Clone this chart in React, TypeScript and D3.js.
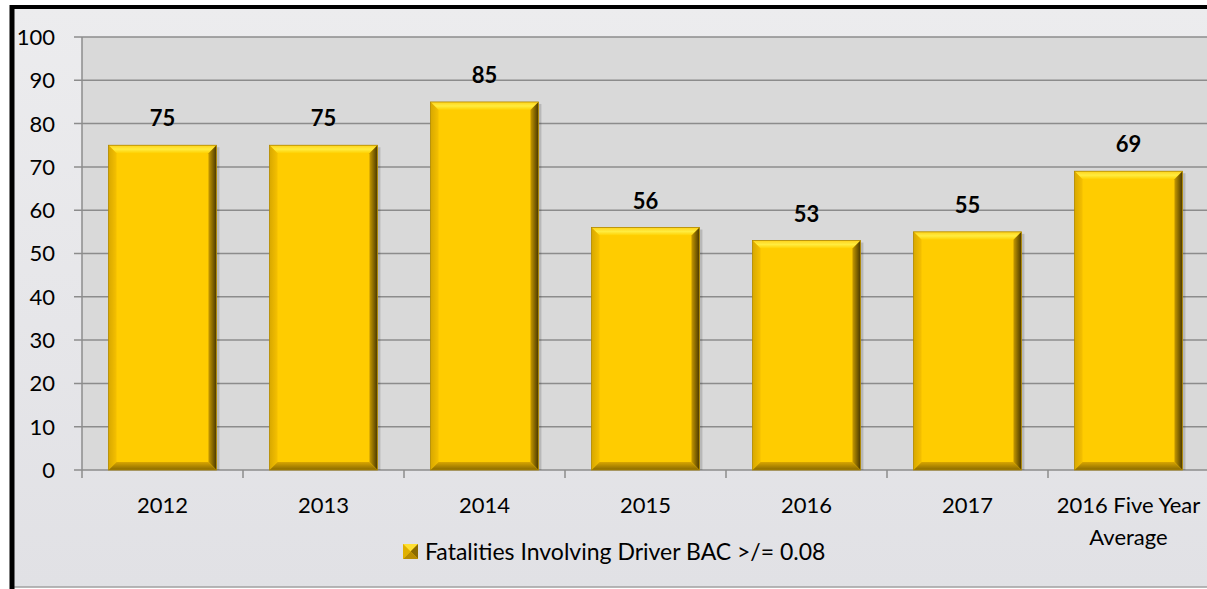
import * as d3 from 'd3';
import { useEffect, useRef } from 'react';

const categories = ['2012', '2013', '2014', '2015', '2016', '2017', '2016 Five Year|Average'];
const values = [75, 75, 85, 56, 53, 55, 69];
const yTicks = [0, 10, 20, 30, 40, 50, 60, 70, 80, 90, 100];
const seriesName = 'Fatalities Involving Driver BAC >/= 0.08';

const FONT = 'Lato, "Open Sans", sans-serif';

export default function App() {
  const svgRef = useRef<SVGSVGElement>(null);

  useEffect(() => {
    const W = 1207;
    const H = 589;
    const margin = { top: 37, right: -2, bottom: 119, left: 82 };
    const width = W - margin.left - margin.right;
    const height = H - margin.top - margin.bottom;

    const root = d3.select(svgRef.current);
    root.selectAll('*').remove();

    const defs = root.append('defs');
    const bg = defs.append('linearGradient').attr('id', 'bg').attr('x1', 0).attr('y1', 0).attr('x2', 0).attr('y2', 1);
    bg.append('stop').attr('offset', '0%').attr('stop-color', '#ececee');
    bg.append('stop').attr('offset', '100%').attr('stop-color', '#e1e1e5');

    const rightG = defs.append('linearGradient').attr('id', 'rightEdge').attr('x1', 0).attr('y1', 0).attr('x2', 1).attr('y2', 0);
    rightG.append('stop').attr('offset', '0%').attr('stop-color', '#c79a00');
    rightG.append('stop').attr('offset', '100%').attr('stop-color', '#4a3800');
    const topG = defs.append('linearGradient').attr('id', 'topEdge').attr('x1', 0).attr('y1', 0).attr('x2', 0).attr('y2', 1);
    topG.append('stop').attr('offset', '0%').attr('stop-color', '#ffd21a');
    topG.append('stop').attr('offset', '50%').attr('stop-color', '#ffec40');
    topG.append('stop').attr('offset', '100%').attr('stop-color', '#ffd000');
    const botG = defs.append('linearGradient').attr('id', 'botEdge').attr('x1', 0).attr('y1', 0).attr('x2', 0).attr('y2', 1);
    botG.append('stop').attr('offset', '0%').attr('stop-color', '#d9a600');
    botG.append('stop').attr('offset', '100%').attr('stop-color', '#8a6a00');
    const leftG = defs.append('linearGradient').attr('id', 'leftEdge').attr('x1', 0).attr('y1', 0).attr('x2', 1).attr('y2', 0);
    leftG.append('stop').attr('offset', '0%').attr('stop-color', '#d8a800');
    leftG.append('stop').attr('offset', '100%').attr('stop-color', '#f5c000');

    // chart background + border
    root.append('rect').attr('x', 0).attr('y', 0).attr('width', W).attr('height', H).attr('fill', '#ffffff');
    root.append('rect').attr('x', 12).attr('y', 7).attr('width', W).attr('height', 580)
      .attr('fill', 'url(#bg)').attr('stroke', '#a0a0a0').attr('stroke-width', 1.5);
    root.append('line').attr('x1', 12).attr('x2', 12).attr('y1', 5).attr('y2', H).attr('stroke', '#000').attr('stroke-width', 5);
    root.append('line').attr('x1', 10).attr('x2', W).attr('y1', 7).attr('y2', 7).attr('stroke', '#000').attr('stroke-width', 4);

    const g = root.append('g').attr('transform', `translate(${margin.left},${margin.top})`);

    const x = d3.scaleBand().domain(categories).range([0, width]).paddingInner(0.33).paddingOuter(0.165);
    const y = d3.scaleLinear().domain([0, 100]).range([height, 0]);

    g.append('rect').attr('width', width).attr('height', height).attr('fill', '#d9d9d9');

    // gridlines
    g.append('g').selectAll('line').data(yTicks).join('line')
      .attr('x1', -8).attr('x2', width)
      .attr('y1', (d) => y(d)).attr('y2', (d) => y(d))
      .attr('stroke', '#8c8c8c').attr('stroke-width', 1.5);

    // y axis
    g.append('line').attr('x1', 0).attr('x2', 0).attr('y1', 0).attr('y2', height).attr('stroke', '#8c8c8c').attr('stroke-width', 1.5);
    g.append('g').selectAll('text').data(yTicks).join('text')
      .attr('x', -27).attr('y', (d) => y(d)).attr('dy', '0.36em')
      .attr('text-anchor', 'end').attr('font-family', FONT).attr('font-size', 22).attr('fill', '#000')
      .text((d) => d);

    // x axis ticks
    const step = x.step();
    const tickXs = d3.range(categories.length + 1).map((i) => i * step);
    g.append('g').selectAll('line').data(tickXs).join('line')
      .attr('x1', (d) => d).attr('x2', (d) => d).attr('y1', height).attr('y2', height + 8)
      .attr('stroke', '#8c8c8c').attr('stroke-width', 1.5);

    // bars with bevel
    const bev = 8;
    const bars = g.append('g').selectAll('g').data(values).join('g')
      .attr('transform', (d, i) => `translate(${x(categories[i])},${y(d)})`);
    bars.each(function (d) {
      const sel = d3.select(this);
      const w = x.bandwidth();
      const h = height - y(d);
      sel.append('rect').attr('x', 3).attr('y', 2).attr('width', w).attr('height', h - 2)
        .attr('fill', '#000').attr('opacity', 0.15);
      sel.append('rect').attr('width', w).attr('height', h).attr('fill', '#ffcc00');
      sel.append('polygon').attr('points', `0,0 ${w},0 ${w - bev},${bev} ${bev},${bev}`).attr('fill', 'url(#topEdge)');
      sel.append('polygon').attr('points', `0,0 ${bev},${bev} ${bev},${h - bev} 0,${h}`).attr('fill', 'url(#leftEdge)');
      sel.append('polygon').attr('points', `${w},0 ${w},${h} ${w - bev},${h - bev} ${w - bev},${bev}`).attr('fill', 'url(#rightEdge)');
      sel.append('polygon').attr('points', `0,${h} ${bev},${h - bev} ${w - bev},${h - bev} ${w},${h}`).attr('fill', 'url(#botEdge)');
      sel.append('rect').attr('width', w).attr('height', h).attr('fill', 'none').attr('stroke', '#b08800').attr('stroke-width', 0.8);
    });

    // value labels
    g.append('g').selectAll('text').data(values).join('text')
      .attr('x', (d, i) => (x(categories[i]) as number) + x.bandwidth() / 2)
      .attr('y', (d) => y(d) - 19)
      .attr('text-anchor', 'middle').attr('font-family', FONT).attr('font-weight', 'bold')
      .attr('font-size', 22).attr('fill', '#000')
      .text((d) => d);

    // category labels
    const cl = g.append('g').selectAll('text').data(categories).join('text')
      .attr('x', (d) => (x(d) as number) + x.bandwidth() / 2)
      .attr('y', height + 43)
      .attr('text-anchor', 'middle').attr('font-family', FONT).attr('font-size', 22).attr('fill', '#000');
    cl.each(function (d) {
      const parts = d.split('|');
      const t = d3.select(this);
      parts.forEach((p, i) => {
        t.append('tspan').attr('x', t.attr('x')).attr('dy', i === 0 ? 0 : 32).text(p);
      });
    });

    // legend
    const lg = root.append('g').attr('transform', 'translate(403,544)');
    lg.append('rect').attr('width', 15).attr('height', 15).attr('fill', '#ffcc00');
    lg.append('polygon').attr('points', '0,0 15,0 7.5,7.5').attr('fill', '#ffe033');
    lg.append('polygon').attr('points', '15,0 15,15 7.5,7.5').attr('fill', '#8a6a00');
    lg.append('polygon').attr('points', '0,15 15,15 7.5,7.5').attr('fill', '#b88c00');
    lg.append('polygon').attr('points', '0,0 0,15 7.5,7.5').attr('fill', '#e0b000');
    lg.append('text').attr('x', 22).attr('y', 7.5).attr('dy', '0.36em')
      .attr('font-family', FONT).attr('font-size', 23).attr('fill', '#000').text(seriesName);
  }, []);

  return (
    <svg ref={svgRef} width={1207} height={589} style={{ position: 'absolute', left: 0, top: 0, display: 'block' }} />
  );
}
